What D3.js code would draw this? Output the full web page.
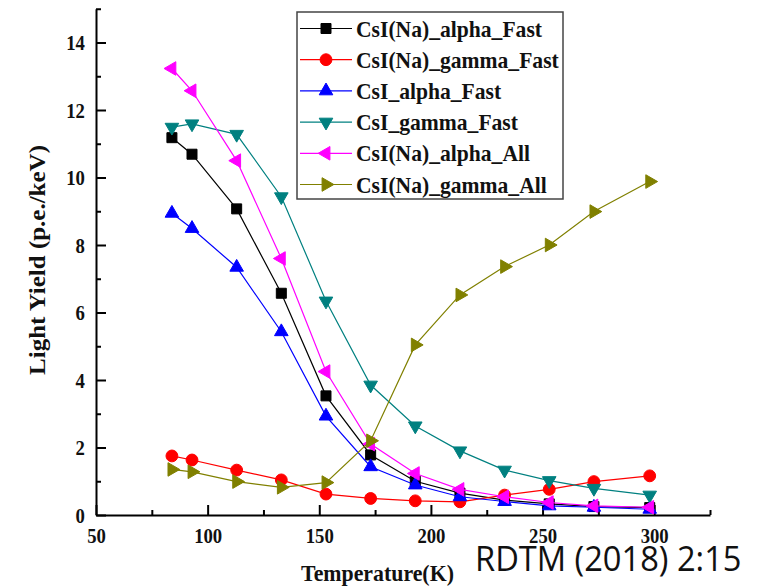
<!DOCTYPE html>
<html>
<head>
<meta charset="utf-8">
<script src="https://cdn.jsdelivr.net/npm/d3@7"></script>
<style>
  body { margin: 0; background: #fff; }
  svg { display: block; }
  .serif { font-family: "Liberation Serif", "Times New Roman", serif; font-weight: bold; fill: #111; }
</style>
</head>
<body>
<svg id="chart" width="769" height="588"></svg>
<script>
// temperatures (K) shared by all series
var temps = [84, 93, 113, 133, 153, 173, 193, 213, 233, 253, 273, 298];

var naAlphaFast  = [11.18, 10.69, 9.07, 6.57, 3.53, 1.78, 1.00, 0.65, 0.44, 0.33, 0.25, 0.22];
var naGammaFast  = [1.75, 1.63, 1.33, 1.04, 0.62, 0.49, 0.42, 0.39, 0.59, 0.76, 0.99, 1.16];
var csiAlphaFast = [8.94, 8.49, 7.34, 5.43, 2.93, 1.43, 0.89, 0.54, 0.40, 0.27, 0.23, 0.17];
var csiGammaFast = [11.49, 11.59, 11.28, 9.43, 6.34, 3.85, 2.64, 1.90, 1.33, 1.02, 0.79, 0.59];
var naAlphaAll   = [13.23, 12.57, 10.50, 7.60, 4.25, 2.10, 1.23, 0.76, 0.54, 0.37, 0.27, 0.23];
var naGammaAll   = [1.35, 1.28, 0.99, 0.82, 0.96, 2.20, 5.04, 6.52, 7.36, 8.00, 8.99, 9.88];

var seriesNames = ['CsI(Na)_alpha_Fast', 'CsI(Na)_gamma_Fast', 'CsI_alpha_Fast',
                   'CsI_gamma_Fast', 'CsI(Na)_alpha_All', 'CsI(Na)_gamma_All'];

var xTicks = [50, 100, 150, 200, 250, 300];
var yTicks = [0, 2, 4, 6, 8, 10, 12, 14];

var series = [
  {name: seriesNames[0], values: naAlphaFast,  color: '#000000', shape: d3.symbolSquare,   rot: 0,   size: 100},
  {name: seriesNames[1], values: naGammaFast,  color: '#ff0000', shape: d3.symbolCircle,   rot: 0,   size: 110},
  {name: seriesNames[2], values: csiAlphaFast, color: '#0000ff', shape: d3.symbolTriangle, rot: 0,   size: 80},
  {name: seriesNames[3], values: csiGammaFast, color: '#008080', shape: d3.symbolTriangle, rot: 180, size: 80},
  {name: seriesNames[4], values: naAlphaAll,   color: '#ff00ff', shape: d3.symbolTriangle, rot: -90, size: 80},
  {name: seriesNames[5], values: naGammaAll,   color: '#808000', shape: d3.symbolTriangle, rot: 90,  size: 80}
];

var svg = d3.select('#chart');

var x = d3.scaleLinear().domain([50, 325]).range([96, 710]);
var y = d3.scaleLinear().domain([0, 15]).range([515, 8.75]);

// minor ticks first, then major ticks with labels
svg.append('g')
  .attr('transform', 'translate(0,515)')
  .call(d3.axisBottom(x).tickValues(d3.range(75, 326, 50)).tickSize(-5).tickSizeOuter(0).tickFormat(''))
  .call(function(g) { g.select('.domain').remove(); })
  .selectAll('line').attr('stroke-width', 2);

svg.append('g')
  .attr('transform', 'translate(96,0)')
  .call(d3.axisLeft(y).tickValues(d3.range(1, 16, 2)).tickSize(-5).tickSizeOuter(0).tickFormat(''))
  .call(function(g) { g.select('.domain').remove(); })
  .selectAll('line').attr('stroke-width', 2);

var xAxis = svg.append('g')
  .attr('transform', 'translate(0,515)')
  .call(d3.axisBottom(x).tickValues(xTicks).tickSize(-10).tickSizeOuter(0).tickPadding(12));

var yAxis = svg.append('g')
  .attr('transform', 'translate(96,0)')
  .call(d3.axisLeft(y).tickValues(yTicks).tickSize(-10).tickSizeOuter(0).tickPadding(13));

[xAxis, yAxis].forEach(function(g) {
  g.select('.domain').attr('stroke-width', 2);
  g.selectAll('.tick line').attr('stroke-width', 2);
  // the source font is a bit narrow, so squeeze it horizontally
  g.selectAll('text')
    .attr('class', 'serif')
    .attr('font-size', 22)
    .attr('transform', 'scale(0.85,1)');
});

// axis titles
svg.append('text')
  .attr('class', 'serif')
  .attr('font-size', 24)
  .attr('text-anchor', 'middle')
  .attr('transform', 'translate(377.5,581) scale(0.91,1)')
  .text('Temperature(K)');

svg.append('text')
  .attr('class', 'serif')
  .attr('font-size', 25)
  .attr('text-anchor', 'middle')
  .attr('transform', 'translate(45,260) rotate(-90) scale(1,0.9)')
  .text('Light Yield (p.e./keV)');

// lines and markers
var line = d3.line()
  .x(function(d, i) { return x(temps[i]); })
  .y(function(d) { return y(d); });

series.forEach(function(s) {
  var g = svg.append('g');
  g.append('path')
    .attr('d', line(s.values))
    .attr('fill', 'none')
    .attr('stroke', s.color)
    .attr('stroke-width', 1.2);
  g.selectAll('path.pt')
    .data(s.values)
    .enter().append('path')
    .attr('class', 'pt')
    .attr('d', d3.symbol().type(s.shape).size(s.size))
    .attr('transform', function(d, i) {
      return 'translate(' + x(temps[i]) + ',' + y(d) + ') rotate(' + s.rot + ')';
    })
    .attr('fill', s.color)
    .attr('stroke', s.color)
    .attr('stroke-width', 1);
});

// legend
var legend = svg.append('g');
legend.append('rect')
  .attr('x', 297).attr('y', 12)
  .attr('width', 266).attr('height', 187)
  .attr('fill', '#fff')
  .attr('stroke', '#444')
  .attr('stroke-width', 1.5);

series.forEach(function(s, i) {
  var cy = 28.5 + i * 31.2;
  legend.append('line')
    .attr('x1', 300).attr('x2', 352)
    .attr('y1', cy).attr('y2', cy)
    .attr('stroke', s.color)
    .attr('stroke-width', 1.2);
  legend.append('path')
    .attr('d', d3.symbol().type(s.shape).size(s.size))
    .attr('transform', 'translate(326,' + cy + ') rotate(' + s.rot + ')')
    .attr('fill', s.color)
    .attr('stroke', s.color);
  legend.append('text')
    .attr('class', 'serif')
    .attr('font-size', 24)
    .attr('transform', 'translate(356,' + (cy + 8) + ') scale(0.9,1)')
    .text(s.name);
});

// citation note
svg.append('text')
  .attr('font-family', '"Open Sans", "Noto Sans", sans-serif')
  .attr('font-size', 34)
  .attr('fill', '#111')
  .attr('transform', 'translate(475,571) scale(0.96,1)')
  .text('RDTM (2018) 2:15');
</script>
</body>
</html>
